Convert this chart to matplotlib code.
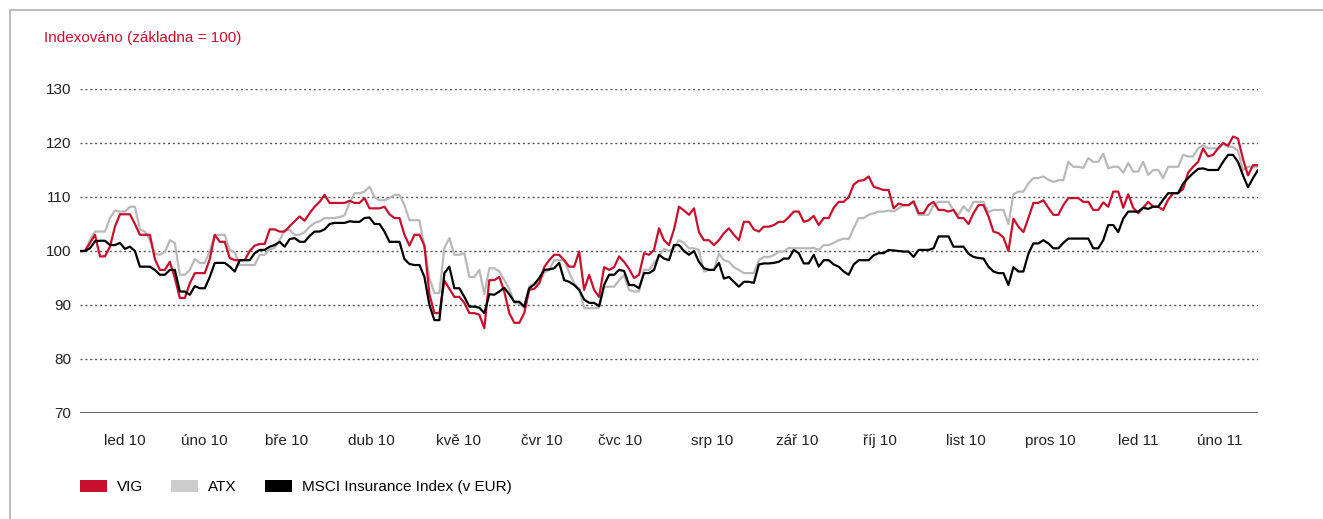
import matplotlib
matplotlib.use("Agg")
import matplotlib.pyplot as plt
from matplotlib.lines import Line2D
from matplotlib.patches import Patch
import numpy as np

# Index values (base = 100), one sample every ~2 trading days
vig = [
    100, 100, 101.5, 103, 99, 99, 100.8, 104.5, 106.8, 106.8,
    106.8, 105, 103, 103, 103, 98.5, 96.5, 96.5, 98, 95,
    91.3, 91.3, 94, 95.9, 95.9, 95.9, 98.5, 103, 101.7, 101.7,
    98.7, 98.3, 98.3, 98.3, 100, 101, 101.3, 101.3, 104, 104,
    103.6, 103.6, 104.6, 105.5, 106.4, 105.6, 107, 108.2, 109.1, 110.4,
    108.9, 108.9, 108.9, 108.9, 109.3, 108.9, 108.9, 109.8, 107.9, 107.9,
    107.9, 108.2, 106.8, 106.1, 106.1, 103, 101, 103, 103, 101,
    92, 88.5, 88.5, 94.5, 93, 91.5, 91.5, 90.4, 88.5, 88.5,
    88.2, 85.7, 94.6, 94.6, 95.2, 92.5, 88.5, 86.7, 86.7, 88.5,
    92.8, 93, 94, 97, 98.3, 99.3, 99.3, 98.3, 97.1, 97.1,
    99.9, 92.8, 95.6, 92.8, 91.5, 97, 96.5, 97, 99, 98,
    96.7, 95, 95.6, 99.6, 99.3, 100.2, 104.2, 102, 101.1, 104,
    108.2, 107.5, 106.7, 107.9, 103.5, 102, 102, 101.1, 102, 103.3,
    104.2, 103, 102, 105.4, 105.4, 104, 103.6, 104.5, 104.5, 104.8,
    105.4, 105.4, 106.3, 107.3, 107.3, 105.4, 105.7, 106.5, 104.8, 106.1,
    106.1, 108, 109.1, 109.1, 110, 112.3, 113, 113.1, 113.8, 111.9,
    111.6, 111.3, 111.3, 107.9, 108.8, 108.5, 108.5, 109.2, 107, 107,
    108.5, 109.1, 107.6, 107.6, 107.3, 107.6, 106.1, 106.1, 105, 107,
    108.5, 108.5, 106.4, 103.6, 103.3, 102.5, 100, 106, 104.5, 103.5,
    106.1, 108.9, 108.9, 109.4, 108, 106.7, 106.7, 108.5, 109.8, 109.8,
    109.8, 109.1, 109.1, 107.6, 107.6, 109, 108.2, 111, 111, 108,
    110.5, 108, 107, 108, 109.1, 108.2, 108.2, 107.6, 109.5, 110.7,
    110.7, 111.5, 114.5, 115.6, 116.5, 119, 117.5, 117.8, 119, 120,
    119.5, 121.2, 120.8, 117, 114, 115.9, 115.9,
]

atx = [
    100, 100, 102, 103.6, 103.6, 103.6, 106.1, 107.5, 107.3, 107.3,
    108.2, 108.2, 104, 103.6, 102, 99.5, 99.3, 99.8, 102, 101.5,
    95.6, 95.6, 96.5, 98.5, 97.8, 97.8, 100, 103, 103, 103,
    100.2, 99.8, 97.4, 97.4, 97.4, 97.4, 99.3, 99.3, 100.3, 100.6,
    102, 103.9, 103.9, 103, 103, 103.5, 104.5, 105.2, 105.5, 106.1,
    106.1, 106.1, 106.3, 106.6, 108.9, 110.7, 110.7, 111, 111.9, 110,
    109.4, 109.4, 109.8, 110.4, 110.4, 108.5, 105.7, 105.7, 105.7, 100.8,
    95, 92.2, 92.2, 100.6, 102.4, 99.3, 99.3, 99.6, 95.2, 95.2,
    96.5, 92, 96.8, 96.8, 96.2, 94.6, 93, 90.4, 90.2, 89.5,
    93.4, 94, 94, 96, 96.5, 98.3, 98.3, 98.3, 96, 94,
    93, 89.4, 89.4, 89.4, 89.5, 93.3, 93.4, 93.4, 94.6, 95.5,
    92.8, 92.5, 92.5, 96.5, 96.5, 97.8, 99, 100.4, 100, 100.5,
    102, 101.5, 100.5, 100.5, 100.2, 96.2, 96.5, 96.5, 99.5, 98.3,
    98, 97, 96.5, 95.9, 95.9, 95.9, 98.3, 98.9, 98.9, 99.2,
    99.9, 99.9, 100.6, 100.5, 100.5, 100.5, 100.5, 100.6, 100.2, 101.1,
    101.1, 101.5, 102, 102.3, 102.2, 104.2, 106.1, 106.1, 106.7, 107,
    107.3, 107.3, 107.5, 107.3, 107.9, 108.5, 108.5, 109.1, 106.7, 106.7,
    106.7, 108.5, 109.1, 109.1, 109.1, 107.5, 106.7, 108.3, 107.3, 109.1,
    109.1, 109.1, 107.2, 107.6, 107.6, 107.6, 105, 110.5, 111, 111,
    112.5, 113.5, 113.5, 113.8, 113.2, 112.8, 113.1, 113.1, 116.5, 115.6,
    115.6, 115.4, 117.2, 116.5, 116.5, 118, 115.3, 115.6, 115.6, 114.5,
    116.3, 114.7, 114.7, 116.5, 114.1, 115, 115, 113.5, 115.6, 115.6,
    115.6, 117.8, 117.5, 117.5, 119, 119.6, 119, 119, 119, 119.8,
    119.3, 119.3, 118.5, 115, 115.6, 115.6, 115.6,
]

msci = [
    100, 100, 100.5, 101.8, 101.9, 101.9, 101.1, 101.1, 101.5, 100.4,
    100.8, 100, 97.1, 97.1, 97.1, 96.5, 95.6, 95.6, 96.5, 96.5,
    92.5, 92.5, 91.9, 93.5, 93.1, 93.1, 95.2, 97.8, 97.8, 97.8,
    97.1, 96.2, 98.3, 98.3, 98.3, 99.6, 100.2, 100.2, 100.8, 101.1,
    101.7, 100.8, 102.2, 102.4, 101.7, 101.7, 102.8, 103.6, 103.6, 104,
    105, 105.2, 105.2, 105.2, 105.5, 105.4, 105.4, 106.1, 106.2, 105,
    105, 103.6, 101.7, 101.7, 101.7, 98.5, 97.6, 97.4, 97.4, 95.2,
    90, 87.2, 87.2, 95.9, 97.1, 93.1, 93.1, 91.5, 89.7, 89.7,
    89.5, 88.5, 92, 91.9, 92.5, 93.2, 92, 90.6, 90.6, 89.7,
    93.1, 93.8, 95, 96.5, 96.6, 96.8, 97.8, 94.6, 94.3, 93.7,
    92.8, 91, 90.4, 90.4, 89.8, 93.7, 95.6, 95.6, 96.5, 96.3,
    93.7, 93.7, 93.1, 95.9, 95.9, 96.5, 99.3, 98.6, 98.3, 101.1,
    101.1, 100, 99.3, 100, 98, 96.8, 96.5, 96.5, 97.8, 94.9,
    95.2, 94.3, 93.4, 94.3, 94.3, 94.1, 97.5, 97.7, 97.7, 97.8,
    98, 98.6, 98.6, 100.2, 99.6, 97.7, 97.7, 99.3, 97.1, 98.3,
    98.3, 97.5, 97.1, 96.2, 95.6, 97.5, 98.3, 98.3, 98.3, 99.2,
    99.6, 99.6, 100.2, 100.1, 100, 99.9, 99.9, 98.9, 100.2, 100.2,
    100.2, 100.5, 102.7, 102.7, 102.7, 100.8, 100.8, 100.8, 99.5, 98.9,
    98.7, 98.6, 97.1, 96.2, 95.9, 95.9, 93.7, 97, 96.2, 96.2,
    99.5, 101.4, 101.4, 102, 101.4, 100.5, 100.5, 101.5, 102.3, 102.3,
    102.3, 102.3, 102.3, 100.5, 100.5, 102, 104.8, 104.8, 103.5, 106,
    107.3, 107.3, 107.3, 108, 107.8, 108.2, 108.2, 109.5, 110.7, 110.7,
    110.7, 112.5, 113.5, 114.4, 115.2, 115.3, 115, 115, 115, 116.5,
    117.8, 117.8, 116.5, 114, 111.8, 113.5, 115,
]

months = ["led 10", "úno 10", "bře 10", "dub 10", "kvě 10", "čvr 10", "čvc 10",
          "srp 10", "zář 10", "říj 10", "list 10", "pros 10", "led 11", "úno 11"]
series_names = ["VIG", "ATX", "MSCI Insurance Index (v EUR)"]

red = "#c8102e"
grey = "#b9b9b9"
black = "#000000"

plt.rcParams["font.family"] = ["Liberation Sans", "DejaVu Sans"]
fs = 11

fig = plt.figure(figsize=(13.23, 5.19), dpi=100)
ax = fig.add_axes([80 / 1323, 1 - 413 / 519, (1258 - 80) / 1323, (413 - 89) / 519])

x = np.arange(len(vig))
ax.plot(x, atx, color=grey, lw=1.6, zorder=3)
ax.plot(x, vig, color=red, lw=1.6, zorder=4)
ax.plot(x, msci, color=black, lw=1.6, zorder=5)

ax.set_xlim(0, len(vig) - 1)
ax.set_ylim(70, 130)
ax.set_yticks(range(70, 131, 10))
for v in range(80, 131, 10):
    ax.axhline(v, color="#555555", lw=1, ls=(0, (1.5, 2)), zorder=1)
ax.axhline(70, color="#444444", lw=1.2, zorder=2)

# month label centres (in sample units)
tick_pos = [9, 25, 41.4, 58.4, 75.8, 92.6, 108.2, 126.6, 143.6, 160.2, 177.4, 194.4, 212, 228.4]
ax.set_xticks(tick_pos)
ax.set_xticklabels(months)
ax.tick_params(axis="both", length=0, labelsize=fs, colors="#222222")
ax.tick_params(axis="x", pad=15)
ax.tick_params(axis="y", pad=6.5)
for s in ax.spines.values():
    s.set_visible(False)

fig.text(44 / 1323, 1 - 38 / 519, "Indexováno (základna = 100)", color=red,
         fontsize=fs, va="center", ha="left")

handles = [Patch(facecolor=c, edgecolor="none") for c in (red, "#cccccc", black)]
fig.legend(handles, series_names, loc="center left", bbox_to_anchor=(80 / 1323, 1 - 487 / 519),
           ncol=3, frameon=False, fontsize=fs, handlelength=1.76, handleheight=0.85,
           handletextpad=0.65, columnspacing=1.85, borderpad=0, borderaxespad=0)

# light frame on top and left edges
fig.add_artist(Line2D([10 / 1323, 1], [1 - 10 / 519, 1 - 10 / 519], color="#bdbdbd", lw=1.5))
fig.add_artist(Line2D([10 / 1323, 10 / 1323], [0, 1 - 10 / 519], color="#bdbdbd", lw=1.5))

fig.savefig("out.png", dpi=100)
